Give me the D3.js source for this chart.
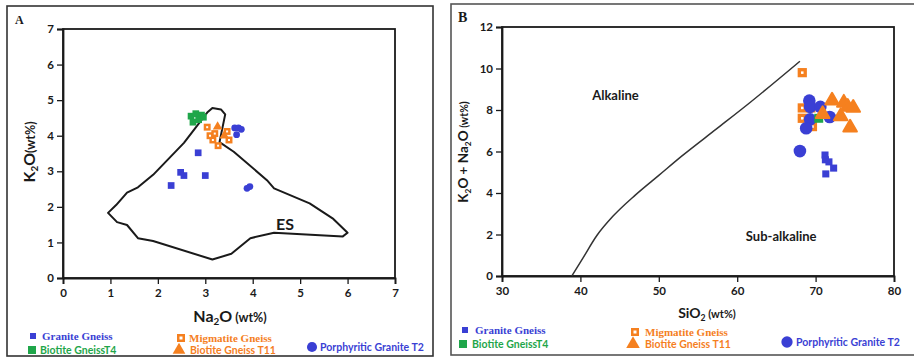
<!DOCTYPE html>
<html><head><meta charset="utf-8">
<script src="https://cdn.jsdelivr.net/npm/d3@7"></script>
<style>body{margin:0;background:#fff}svg{display:block}</style>
</head><body>
<script>
// ---------- DATA ----------
// Panel A: Na2O vs K2O
const aXTicks = [0,1,2,3,4,5,6,7];
const aYTicks = [0,1,2,3,4,5,6,7];
const aGranite = [[2.28,2.6],[2.48,2.97],[2.55,2.88],[2.85,3.52],[3.0,2.88]];
const aBiotiteT4 = [[2.7,4.55],[2.8,4.62],[2.92,4.58],[2.74,4.38],[2.86,4.45],[2.96,4.52]];
const aMigmatite = [[3.04,4.24],[3.1,4.0],[3.16,3.88],[3.27,3.72],[3.46,4.12],[3.5,3.88],[3.2,4.06]];
const aBiotiteT11 = [[3.26,4.25],[3.4,4.0]];
const aPorphyritic = [[3.62,4.22],[3.7,4.22],[3.66,4.03],[3.76,4.18],[3.88,2.52],[3.94,2.57]];
const esField = [[0.95,1.83],[1.14,1.57],[1.35,1.49],[1.58,1.12],[1.9,1.04],[3.15,0.52],[3.55,0.68],[3.95,1.12],[4.45,1.27],[5.9,1.17],[6.0,1.27],[5.7,1.66],[5.2,2.1],[4.45,2.52],[4.3,2.75],[3.6,3.55],[3.3,3.82],[3.42,4.6],[3.33,4.74],[3.15,4.78],[3.04,4.65],[2.55,3.8],[1.9,2.9],[1.58,2.55],[1.35,2.4],[1.12,2.05]];

// Panel B: SiO2 vs total alkali
const bXTicks = [30,40,50,60,70,80];
const bYTicks = [0,2,4,6,8,10,12];
const bGranite = [[71.2,5.83],[71.25,5.6],[71.7,5.5],[72.3,5.2],[71.3,4.92]];
const bBiotiteT4 = [[70.4,7.6]];
const bMigmatite = [[68.3,9.8],[68.3,8.1],[68.3,7.6],[69.6,7.2],[69.4,8.1]];
const bBiotiteT11 = [[72.1,8.45],[70.9,7.8],[73.2,7.7],[73.6,8.35],[74.1,8.15],[74.8,8.1],[74.4,7.15]];
const bPorphyritic = [[69.2,8.45],[69.3,8.15],[70.6,8.15],[69.3,7.55],[68.8,7.12],[71.8,7.66],[68.0,6.02]];
const divider = [[38.9,0],[40.3,0.85],[42.1,1.95],[44.2,2.9],[47,3.9],[50,4.85],[53,5.8],[57.4,7.1],[61.6,8.35],[68,10.35]];

const blue = "#3a3fd4", green = "#1fa64a", orange = "#f5801f", ink = "#1a1a1a";
const sans = "'Lato','DejaVu Sans',sans-serif", serif = "'Liberation Serif','Times New Roman',serif";

const svg = d3.select("body").append("svg").attr("width",914).attr("height",358);

// outer panel borders
svg.append("rect").attr("x",7).attr("y",6).attr("width",426).attr("height",350)
  .attr("fill","none").attr("stroke","#333").attr("stroke-width",1.6);
svg.append("rect").attr("x",451).attr("y",4).attr("width",470).attr("height",351)
  .attr("fill","none").attr("stroke","#555").attr("stroke-width",1.6);

function panel(cfg){
  const g = svg.append("g");
  const x = d3.scaleLinear().domain(cfg.xd).range(cfg.xr);
  const y = d3.scaleLinear().domain(cfg.yd).range(cfg.yr);
  g.append("rect").attr("x",cfg.xr[0]).attr("y",cfg.yr[1]).attr("width",cfg.xr[1]-cfg.xr[0]).attr("height",cfg.yr[0]-cfg.yr[1])
    .attr("fill","none").attr("stroke",ink).attr("stroke-width",1.8);
  const ax = g.append("g").attr("transform",`translate(0,${cfg.yr[0]})`)
    .call(d3.axisBottom(x).tickValues(cfg.xt).tickSize(6).tickPadding(5).tickFormat(d3.format("d")));
  const ay = g.append("g").attr("transform",`translate(${cfg.xr[0]},0)`)
    .call(d3.axisLeft(y).tickValues(cfg.yt).tickSize(6).tickPadding(3).tickFormat(d3.format("d")));
  [ax,ay].forEach(a=>{
    a.select(".domain").attr("stroke",ink).attr("stroke-width",1.8);
    a.selectAll(".tick line").attr("stroke",ink).attr("stroke-width",1.3);
    a.selectAll("text").attr("fill",ink).attr("font-family",sans).attr("font-weight","bold").attr("font-size",11.5);
  });
  return {g,x,y};
}

function sym(g, data, x, y, type, size, color, opts={}){
  g.selectAll(null).data(data).enter().append("path")
    .attr("d", d3.symbol().type(type).size(size))
    .attr("transform", d=>`translate(${x(d[0])},${y(d[1])})`)
    .attr("fill", color).attr("stroke", opts.stroke||"none").attr("stroke-width",opts.sw||0)
    .attr("stroke-linejoin","round");
  if(opts.hole){
    g.selectAll(null).data(data).enter().append("rect")
      .attr("x",d=>x(d[0])-opts.hole/2).attr("y",d=>y(d[1])-opts.hole/2)
      .attr("width",opts.hole).attr("height",opts.hole).attr("fill","#fff");
  }
}

function subLabel(g, parts, xp, yp, rot, size){
  const t = g.append("text").attr("font-family",sans).attr("font-weight","bold").attr("fill",ink)
    .attr("text-anchor","middle").attr("transform",`translate(${xp},${yp}) rotate(${rot})`).attr("font-size",size);
  parts.forEach(p=>{
    const s = t.append("tspan").text(p.t);
    if(p.sub) s.attr("font-size",size*0.62).attr("dy",3);
    if(p.after) s.attr("dy",-3);
    if(p.small) s.attr("font-size",size*0.78);
  });
}

// ---------- PANEL A ----------
const A = panel({xd:[0,7],xr:[63,395],yd:[0,7],yr:[278,29],xt:aXTicks,yt:aYTicks});
A.g.append("path").datum(esField)
  .attr("d", d3.line().x(d=>A.x(d[0])).y(d=>A.y(d[1])).curve(d3.curveLinearClosed))
  .attr("fill","none").attr("stroke",ink).attr("stroke-width",2).attr("stroke-linejoin","round");
A.g.append("text").attr("x",A.x(4.68)).attr("y",A.y(1.36)).attr("text-anchor","middle")
  .attr("font-family",sans).attr("font-weight","bold").attr("font-size",16).attr("fill",ink).text("ES");
sym(A.g,aBiotiteT4,A.x,A.y,d3.symbolSquare,45,green);
sym(A.g,aGranite,A.x,A.y,d3.symbolSquare,45,blue);
sym(A.g,aMigmatite,A.x,A.y,d3.symbolSquare,48,orange,{hole:2});
sym(A.g,aBiotiteT11,A.x,A.y,d3.symbolTriangle,40,orange);
sym(A.g,aPorphyritic,A.x,A.y,d3.symbolCircle,36,blue);
subLabel(A.g,[{t:"Na"},{t:"2",sub:true},{t:"O",after:true},{t:" (wt%)",small:true}],230,322,0,16);
subLabel(A.g,[{t:"K"},{t:"2",sub:true},{t:"O",after:true},{t:"(wt%)",small:true}],35,152,-90,16);
svg.append("text").attr("x",15).attr("y",24).attr("font-family",serif).attr("font-weight","bold").attr("font-size",12).attr("fill",ink).text("A");

// ---------- PANEL B ----------
const B = panel({xd:[30,80],xr:[502,894],yd:[0,12],yr:[276,27],xt:bXTicks,yt:bYTicks});
B.g.append("path").datum(divider)
  .attr("d", d3.line().x(d=>B.x(d[0])).y(d=>B.y(d[1])).curve(d3.curveMonotoneX))
  .attr("fill","none").attr("stroke","#333").attr("stroke-width",1.5);
B.g.append("text").attr("x",B.x(41.5)).attr("y",B.y(8.5)).attr("font-family",sans).attr("font-weight","bold").attr("font-size",13).attr("fill",ink).text("Alkaline");
B.g.append("text").attr("x",B.x(61.1)).attr("y",B.y(1.7)).attr("font-family",sans).attr("font-weight","bold").attr("font-size",13).attr("fill",ink).text("Sub-alkaline");
sym(B.g,bGranite,B.x,B.y,d3.symbolSquare,50,blue);
sym(B.g,bMigmatite,B.x,B.y,d3.symbolSquare,85,orange,{hole:2.5});
sym(B.g,bPorphyritic,B.x,B.y,d3.symbolCircle,125,blue);
sym(B.g,bBiotiteT4,B.x,B.y,d3.symbolSquare,80,green);
sym(B.g,bBiotiteT11,B.x,B.y,d3.symbolTriangle,80,orange,{stroke:orange,sw:2});
subLabel(B.g,[{t:"SiO"},{t:"2",sub:true},{t:" (wt%)",after:true,small:true}],707,318,0,14);
subLabel(B.g,[{t:"K"},{t:"2",sub:true},{t:"O + Na",after:true},{t:"2",sub:true},{t:"O",after:true},{t:" (wt%)",small:true}],468,152,-90,13.5);
svg.append("text").attr("x",458).attr("y",22).attr("font-family",serif).attr("font-weight","bold").attr("font-size",14).attr("fill",ink).text("B");

// ---------- LEGENDS ----------
function legend(items){
  items.forEach(it=>{
    svg.append("path").attr("d", d3.symbol().type(it.type).size(it.size)())
      .attr("transform",`translate(${it.mx},${it.my})`).attr("fill",it.color);
    if(it.hole) svg.append("rect").attr("x",it.mx-it.hole/2).attr("y",it.my-it.hole/2).attr("width",it.hole).attr("height",it.hole).attr("fill","#fff");
    svg.append("text").attr("x",it.tx).attr("y",it.my+4).attr("font-family",it.font).attr("font-weight","bold")
      .attr("font-size",it.fs).attr("fill",it.color).text(it.label);
  });
}
legend([
  {label:"Granite Gneiss",type:d3.symbolSquare,size:36,color:blue,mx:33,my:336,tx:42,font:serif,fs:11},
  {label:"Biotite GneissT4",type:d3.symbolSquare,size:64,color:green,mx:32,my:350,tx:40,font:sans,fs:10.5},
  {label:"Migmatite Gneiss",type:d3.symbolSquare,size:64,color:orange,mx:181,my:338,tx:189,font:serif,fs:11,hole:3},
  {label:"Biotite Gneiss T11",type:d3.symbolTriangle,size:70,color:orange,mx:179,my:350,tx:190,font:sans,fs:10.5},
  {label:"Porphyritic Granite T2",type:d3.symbolCircle,size:80,color:blue,mx:312,my:347,tx:320,font:sans,fs:10.5},
  {label:"Granite Gneiss",type:d3.symbolSquare,size:36,color:blue,mx:465,my:330,tx:475,font:serif,fs:11},
  {label:"Biotite GneissT4",type:d3.symbolSquare,size:64,color:green,mx:463,my:344,tx:472,font:sans,fs:10.5},
  {label:"Migmatite Gneiss",type:d3.symbolSquare,size:64,color:orange,mx:635,my:332,tx:645,font:serif,fs:11,hole:3},
  {label:"Biotite Gneiss T11",type:d3.symbolTriangle,size:80,color:orange,mx:633,my:344,tx:645,font:sans,fs:10.5},
  {label:"Porphyritic Granite T2",type:d3.symbolCircle,size:100,color:blue,mx:787,my:342,tx:796,font:sans,fs:10.5}
]);
</script>
</body></html>
